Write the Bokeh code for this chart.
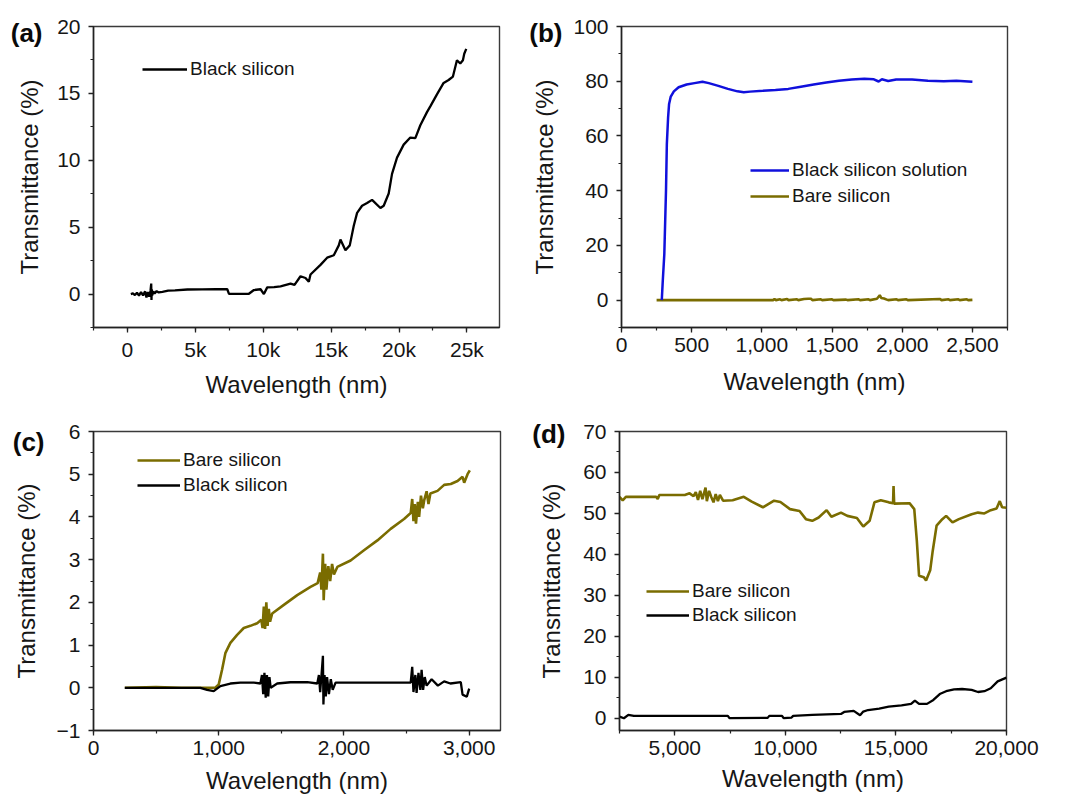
from bokeh.plotting import figure
from bokeh.models import (Range1d, SingleIntervalTicker, FixedTicker, NumeralTickFormatter,
                          BasicTickFormatter, CustomJSTickFormatter, LinearAxis,
                          Legend, LegendItem)
from bokeh.layouts import column, row
from bokeh.embed import file_html
from bokeh.resources import INLINE

# ---------------- data ----------------
# (a) Black silicon, 0-25k nm
a_black = [(250, 0.0), (400, 0.05), (550, -0.08), (700, 0.1), (850, -0.12), (1000, 0.15),
           (1150, -0.1), (1300, 0.2), (1400, -0.25), (1500, 0.15), (1600, -0.2), (1700, 0.25),
           (1750, 0.78), (1770, -0.44), (1790, 0.35), (1820, -0.1), (1900, 0.2), (2000, 0.05),
           (2150, 0.22), (2300, 0.12), (2574, 0.17), (3000, 0.25), (3500, 0.28), (4412, 0.34),
           (5500, 0.35), (6500, 0.36), (7353, 0.36), (7476, 0.02), (8200, 0.02), (8946, 0.02),
           (9314, 0.3), (9804, 0.36), (10049, 0.0), (10294, 0.5), (10800, 0.52), (11275, 0.58),
           (12010, 0.78), (12304, 0.68), (12745, 1.33), (13113, 1.2), (13358, 0.92), (13481, 1.46),
           (14216, 2.18), (14706, 2.72), (15196, 2.9), (15564, 3.64), (15686, 4.08), (16054, 3.28),
           (16373, 3.64), (16667, 5.1), (16912, 6.07), (17280, 6.6), (17647, 6.8), (18015, 7.04),
           (18628, 6.43), (18873, 6.6), (19240, 7.52), (19485, 8.98), (19853, 10.2), (20343, 11.17),
           (20833, 11.7), (21201, 11.65), (21569, 12.62), (22059, 13.6), (22304, 14.03),
           (22794, 14.93), (23284, 15.78), (23652, 16.0), (23971, 16.26), (24265, 17.48),
           (24510, 17.23), (24706, 17.48), (24804, 17.96), (24951, 18.33)]

# (b) 250-2500 nm
b_solution = [(287, 0), (294, 7), (305, 16.8), (317, 40), (323, 57), (332, 66.8), (339, 71.7),
              (351, 74.4), (373, 76.3), (407, 77.8), (464, 78.8), (520, 79.3), (577, 79.8),
              (622, 79.3), (690, 78.3), (758, 77.2), (826, 76.3), (871, 76.0), (916, 76.2),
              (1007, 76.5), (1097, 76.8), (1188, 77.2), (1278, 78.0), (1369, 78.8), (1459, 79.5),
              (1549, 80.2), (1640, 80.6), (1730, 80.9), (1798, 80.7), (1832, 79.9), (1855, 80.7),
              (1900, 80.1), (1957, 80.6), (2070, 80.6), (2183, 80.2), (2296, 80.0), (2386, 80.2),
              (2500, 79.8)]
b_bare = [(250, 0), (1080, 0), (1090, 0.4), (1100, 0), (1130, 0.3), (1140, 0), (1180, 0.4),
          (1190, 0), (1250, 0.3), (1260, 0), (1300, 0.4), (1330, 0.5), (1350, 0.5), (1360, 0),
          (1420, 0.3), (1430, 0), (1500, 0.3), (1510, 0), (1600, 0.2), (1610, 0), (1690, 0.3),
          (1700, 0), (1760, 0.3), (1770, 0), (1820, 0.5), (1840, 1.8), (1850, 0.8), (1870, 0.6),
          (1890, 0.2), (1900, 0), (1960, 0.3), (1970, 0), (2030, 0.3), (2040, 0), (2270, 0.4),
          (2280, 0), (2330, 0.3), (2340, 0), (2400, 0.3), (2410, 0), (2460, 0.3), (2470, 0),
          (2500, 0.1)]

# (c) 250-3000 nm
c_bare = [(250, 0), (500, 0.02), (700, 0), (973, 0), (1000, 0.08), (1027, 0.43), (1053, 0.81),
          (1093, 1.05), (1147, 1.24), (1200, 1.40), (1253, 1.45), (1307, 1.51), (1340, 1.59),
          (1350, 1.4), (1360, 1.9), (1370, 1.38), (1380, 2.0), (1390, 1.45), (1400, 1.85),
          (1410, 1.55), (1427, 1.74), (1520, 1.94), (1627, 2.17), (1733, 2.36), (1790, 2.45),
          (1810, 2.7), (1820, 2.3), (1832, 3.14), (1838, 2.05), (1850, 2.9), (1860, 2.3),
          (1875, 2.85), (1890, 2.5), (1905, 2.9), (1920, 2.65), (1947, 2.83), (2053, 2.98),
          (2160, 3.22), (2267, 3.45), (2373, 3.72), (2480, 3.95), (2533, 4.09), (2545, 4.42),
          (2555, 3.9), (2565, 4.3), (2575, 3.84), (2590, 4.35), (2600, 4.0), (2615, 4.5),
          (2630, 4.2), (2640, 4.38), (2660, 4.6), (2675, 4.3), (2690, 4.55), (2747, 4.61),
          (2800, 4.75), (2853, 4.77), (2907, 4.84), (2947, 4.94), (2960, 4.8), (2987, 5.0),
          (3005, 5.09)]
c_black = [(250, 0), (600, 0), (853, 0), (907, -0.05), (960, -0.08), (1013, 0.04), (1093, 0.1),
           (1173, 0.12), (1280, 0.12), (1333, 0.1), (1345, 0.3), (1355, -0.15), (1365, 0.35),
           (1375, -0.23), (1385, 0.3), (1395, -0.2), (1405, 0.25), (1415, 0.0), (1467, 0.1),
           (1573, 0.13), (1707, 0.13), (1787, 0.1), (1800, 0.3), (1810, -0.1), (1822, 0.35),
           (1832, 0.75), (1836, -0.39), (1845, 0.3), (1855, -0.2), (1865, 0.25), (1880, -0.15),
           (1895, 0.2), (1910, -0.05), (1933, 0.12), (1973, 0.12), (2300, 0.12), (2533, 0.12),
           (2545, 0.49), (2555, -0.1), (2570, 0.3), (2580, -0.12), (2595, 0.35), (2610, -0.05),
           (2620, 0.42), (2632, -0.05), (2645, 0.25), (2660, 0.05), (2700, 0.2), (2750, 0.05),
           (2800, 0.15), (2850, 0.1), (2933, 0.13), (2947, -0.16), (2981, -0.21), (3000, -0.02)]

# (d) 2500-20000 nm
d_bare = [(2500, 54.05), (2644, 53.2), (2788, 54.05), (4157, 54.05), (4229, 53.5), (4301, 54.5),
          (5454, 54.5), (5670, 54.9), (5850, 54.2), (5950, 55.2), (6050, 53.3), (6150, 55.5),
          (6250, 53.5), (6391, 56.3), (6450, 53.0), (6550, 55.5), (6650, 54.0), (6751, 52.7),
          (6850, 54.7), (6950, 53.0), (7039, 54.5), (7183, 53.1), (7616, 53.2), (8120, 54.05),
          (8480, 52.9), (8985, 51.5), (9489, 53.1), (9777, 52.8), (10209, 51.05), (10642, 50.6),
          (10930, 48.6), (11218, 48.2), (11506, 49.0), (11866, 50.8), (12082, 49.2),
          (12514, 50.2), (12803, 49.4), (13235, 48.9), (13523, 46.8), (13812, 48.2),
          (14028, 52.7), (14316, 53.2), (14676, 52.7), (14870, 52.5), (14892, 56.7),
          (14920, 52.4), (15613, 52.5), (15829, 51.05), (15944, 43.4), (16045, 34.8),
          (16261, 34.4), (16362, 33.6), (16549, 36.1), (16665, 40.9), (16838, 47.0),
          (17097, 48.6), (17270, 49.4), (17558, 47.8), (17846, 48.6), (18423, 49.8),
          (18711, 50.2), (19000, 50.0), (19288, 50.8), (19550, 51.2), (19696, 53.0),
          (19800, 51.5), (20000, 51.4)]
d_black = [(2500, 0.4), (2700, 0.0), (2900, 0.8), (3148, 0.57), (5000, 0.57), (7399, 0.57),
           (7472, 0.0), (9200, 0.08), (9273, 0.57), (9849, 0.57), (9921, 0.0), (10281, 0.16),
           (10353, 0.57), (11218, 0.8), (12514, 1.05), (12659, 1.54), (13091, 1.78),
           (13379, 0.73), (13523, 1.62), (13740, 2.0), (14244, 2.35), (14676, 2.84),
           (15253, 3.16), (15685, 3.5), (15858, 4.3), (16045, 3.5), (16405, 3.5), (16694, 4.46),
           (16982, 5.9), (17270, 6.6), (17630, 7.05), (17990, 7.13), (18423, 6.9), (18711, 6.4),
           (19000, 6.6), (19288, 7.3), (19600, 9.0), (20000, 9.9)]

# panel tags and the value level (on each y axis) where they sit
tags = ["(a)", "(b)", "(c)", "(d)"]
tag_levels = [19.5, 97.5, 5.75, 69.5]

# ---------------- style ----------------
FONT = "Liberation Sans"
OLIVE = "#7a6c00"
BLUE = "#1010dc"
BLACK = "#000000"
TXT = "#161616"
XLABEL = "Wavelength (nm)"
YLABEL = "Transmittance (%)"


def xy(pairs):
    return [p[0] for p in pairs], [p[1] for p in pairs]


def style_axis(ax):
    ax.axis_line_color = "#222222"
    ax.axis_line_width = 1.5
    ax.major_tick_line_color = "#222222"
    ax.minor_tick_line_color = "#222222"
    ax.major_tick_line_width = 1.3
    ax.minor_tick_line_width = 1.2
    ax.major_tick_out = 5
    ax.major_tick_in = 0
    ax.minor_tick_out = 3
    ax.minor_tick_in = 0
    ax.major_label_text_font = FONT
    ax.major_label_text_font_size = "21px"
    ax.major_label_text_color = TXT
    ax.axis_label_text_font = FONT
    ax.axis_label_text_font_size = "24px"
    ax.axis_label_text_font_style = "normal"
    ax.axis_label_text_color = TXT


def panel(width, height, borders, xr, yr, xint, yint, xfmt, xstd, tag, tag_level,
          tag_standoff, ylabel_std):
    l, r, t, b = borders
    p = figure(width=width, height=height, output_backend="svg", toolbar_location=None,
               x_range=Range1d(*xr), y_range=Range1d(*yr),
               min_border_left=l, min_border_right=r, min_border_top=t, min_border_bottom=b,
               background_fill_color="white", border_fill_color="white")
    p.grid.visible = False
    p.outline_line_color = "#3a3a3a"
    p.outline_line_width = 1.4
    p.xaxis.ticker = SingleIntervalTicker(interval=xint, num_minor_ticks=2)
    p.yaxis.ticker = SingleIntervalTicker(interval=yint, num_minor_ticks=2)
    p.xaxis.formatter = xfmt
    p.yaxis.formatter = BasicTickFormatter()
    p.xaxis.axis_label = XLABEL
    p.xaxis.major_label_standoff = 5
    p.yaxis.major_label_standoff = 8
    p.xaxis.axis_label_standoff = xstd
    style_axis(p.xaxis[0])
    style_axis(p.yaxis[0])
    # outer left axis: carries the panel tag (single tick label) and the y title
    outer = LinearAxis(ticker=FixedTicker(ticks=[tag_level], minor_ticks=[]),
                       formatter=CustomJSTickFormatter(code='return "%s";' % tag),
                       axis_label=YLABEL)
    style_axis(outer)
    outer.axis_line_color = None
    outer.major_tick_line_color = None
    outer.minor_tick_line_color = None
    outer.major_tick_out = 0
    outer.minor_tick_out = 0
    outer.major_label_standoff = tag_standoff
    outer.major_label_text_font_size = "26px"
    outer.major_label_text_font_style = "bold"
    outer.major_label_text_color = "#0a0a0a"
    outer.axis_label_standoff = ylabel_std
    p.add_layout(outer, "left")
    return p


def add_legend(p, items, loc, glyph_w, spacing):
    lg = Legend(items=[LegendItem(label=n, renderers=[r]) for n, r in items],
                location=loc, glyph_width=glyph_w, glyph_height=20, label_height=20,
                label_width=20, padding=0, margin=0, spacing=spacing, label_standoff=3,
                background_fill_alpha=0, border_line_alpha=0,
                label_text_font=FONT, label_text_font_size="19px", label_text_color=TXT)
    p.add_layout(lg)


# ---- (a) ----  figure origin = page (0,0)
pa = panel(528, 408, (93, 29, 23, 75), (-2500, 27400), (-2.5, 20), 5000, 5,
           NumeralTickFormatter(format="0a"), 7, tags[0], tag_levels[0], 12, -35)
x, y = xy(a_black)
ra = pa.line(x, y, line_color=BLACK, line_width=2.3)
add_legend(pa, [("Black silicon", ra)], (49, 247), 45, 3)

# ---- (b) ----  origin = page (528,0)
pb = panel(542, 408, (91, 63, 26, 81), (0, 2750), (-10, 100), 500, 20,
           NumeralTickFormatter(format="0,0"), 13, tags[1], tag_levels[1], 8, -32)
x, y = xy(b_bare)
rb2 = pb.line(x, y, line_color=OLIVE, line_width=2.6)
x, y = xy(b_solution)
rb1 = pb.line(x, y, line_color=BLUE, line_width=2.5)
add_legend(pb, [("Black silicon solution", rb1), ("Bare silicon", rb2)], (129, 120), 39, 4)

# ---- (c) ----  origin = page (0,408)
pc = panel(528, 392, (93, 28, 21, 70), (0, 3250), (-1, 6), 1000, 1,
           NumeralTickFormatter(format="0,0"), 9, tags[2], tag_levels[2], 9, -30)
x, y = xy(c_bare)
rc1 = pc.line(x, y, line_color=OLIVE, line_width=2.6)
x, y = xy(c_black)
rc2 = pc.line(x, y, line_color=BLACK, line_width=2.3)
add_legend(pc, [("Bare silicon", rc1), ("Black silicon", rc2)], (44, 234), 43, 3)

# ---- (d) ----  origin = page (528,408)
pd = panel(542, 392, (91, 64, 23, 68), (2500, 20000), (-3, 70), 5000, 10,
           NumeralTickFormatter(format="0,0"), 7, tags[3], tag_levels[3], 15, -36)
x, y = xy(d_bare)
rd1 = pd.line(x, y, line_color=OLIVE, line_width=2.6)
x, y = xy(d_black)
rd2 = pd.line(x, y, line_color=BLACK, line_width=2.3)
add_legend(pd, [("Bare silicon", rd1), ("Black silicon", rd2)], (27, 104), 43, 2)

layout = column(row(pa, pb), row(pc, pd))
open("out.html", "w").write(file_html(layout, INLINE))
